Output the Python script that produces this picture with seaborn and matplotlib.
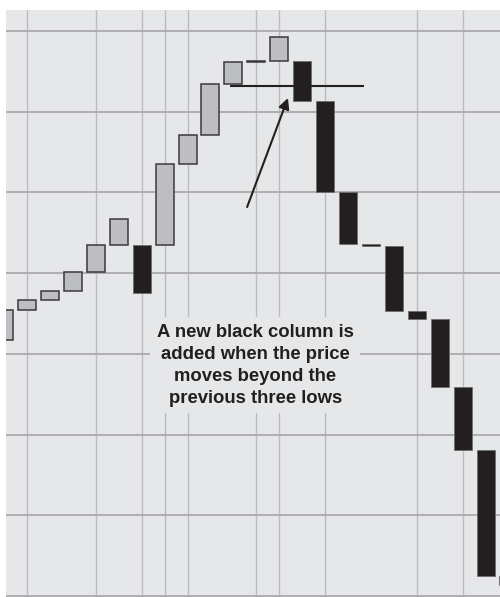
import pandas as pd
import seaborn as sns
import matplotlib.pyplot as plt

# Three-line break columns (index = column number, low/high in price units)
col_idx = list(range(23))
col_low = [51.7, 55.4, 56.7, 57.8, 60.1, 63.5, 57.5, 63.5, 73.5, 77.1, 83.4, 86.2,
           86.35, 81.3, 70.1, 63.6, 63.4, 55.3, 54.3, 45.9, 38.1, 22.5, 21.4]
col_high = [55.4, 56.7, 57.8, 60.1, 63.5, 66.7, 63.5, 73.5, 77.1, 83.4, 86.2, 86.35,
            89.3, 86.3, 81.3, 70.1, 63.6, 63.4, 55.3, 54.3, 45.9, 38.1, 22.5]
col_dir = ['up', 'up', 'up', 'up', 'up', 'up', 'down', 'up', 'up', 'up', 'up', 'up',
           'up', 'down', 'down', 'down', 'down', 'down', 'down', 'down', 'down', 'down', 'down']

# price levels of the gridlines and the columns where month lines fall
price_grid = [20, 30, 40, 50, 60, 70, 80, 90]
month_grid = [1, 4, 6, 7, 8, 11, 12, 14, 18, 20]

# the "previous three lows" level and the annotation
break_level = 83.2
note = "A new black column is\nadded when the price\nmoves beyond the\nprevious three lows"

df = pd.DataFrame({'col': col_idx, 'low': col_low, 'high': col_high, 'dir': col_dir})
df['size'] = df['high'] - df['low']

sns.set_style('white', rc={'axes.facecolor': '#e6e7e9'})
plt.rcParams['font.family'] = ['Liberation Sans', 'DejaVu Sans']

fig = plt.figure(figsize=(5, 5.97), dpi=100)
ax = fig.add_axes([6 / 500, 0, 1 - 6 / 500, 587 / 597])

# grid
for x in month_grid:
    ax.axvline(x, color='#bcbcbe', lw=1.0, zorder=0)
for y in price_grid:
    ax.axhline(y, color='#ababad', lw=1.3, zorder=0)

up = df[df['dir'] == 'up']
down = df[df['dir'] == 'down']

sns.barplot(data=up, x='col', y='size', bottom=up['low'].to_numpy(), native_scale=True,
            width=0.785, color='#bdbec2', saturation=1, edgecolor='#3a3a3c',
            linewidth=1.1, errorbar=None, ax=ax, zorder=2)
sns.barplot(data=down, x='col', y='size', bottom=down['low'].to_numpy(), native_scale=True,
            width=0.785, color='#231f20', saturation=1, edgecolor='#6e6e70',
            linewidth=0.6, errorbar=None, ax=ax, zorder=2)

# line marking the low of the previous three columns
ax.hlines(break_level, 9.85, 15.7, color='#231f20', lw=1.5, zorder=3)

ax.annotate('', xy=(12.38, 81.7), xytext=(10.6, 68.2),
            arrowprops=dict(arrowstyle='-|>', color='#231f20', lw=1.5,
                            mutation_scale=16, shrinkA=0, shrinkB=0), zorder=4)

ax.text(10.95, 48.6, note, ha='center', va='center', fontsize=13.3,
        fontweight='bold', color='#231f20', linespacing=1.38, zorder=5,
        bbox=dict(boxstyle='square,pad=0.35', facecolor='#e6e7e9', edgecolor='none'))

ax.set_xlim(0.083, 21.63)
ax.set_ylim(19.876, 92.61)
ax.set_xlabel('')
ax.set_ylabel('')
ax.set_xticks([])
ax.set_yticks([])
sns.despine(ax=ax, left=True, bottom=True)

plt.savefig('out.png', dpi=100)
